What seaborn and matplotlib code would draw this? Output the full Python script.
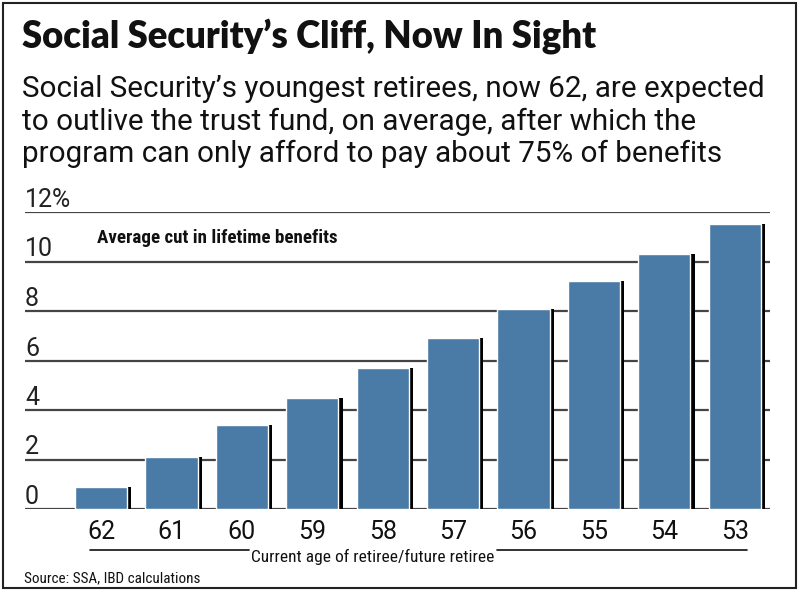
import matplotlib
matplotlib.use('Agg')
import matplotlib.pyplot as plt
import matplotlib.patheffects as pe
from matplotlib.patches import Rectangle
from matplotlib.lines import Line2D
import seaborn as sns

ages = ['62', '61', '60', '59', '58', '57', '56', '55', '54', '53']
cuts = [0.9, 2.1, 3.4, 4.5, 5.7, 6.9, 8.1, 9.2, 10.3, 11.5]
yticks = [0, 2, 4, 6, 8, 10, 12]
ytick_labels = ['0', '2', '4', '6', '8', '10', '12%']

title = 'Social Security\u2019s Cliff, Now In Sight'
subtitle = ['Social Security\u2019s youngest retirees, now 62, are expected',
            'to outlive the trust fund, on average, after which the',
            'program can only afford to pay about 75% of benefits']
series_label = 'Average cut in lifetime benefits'
xlabel = 'Current age of retiree/future retiree'
source = 'Source: SSA, IBD calculations'

sns.set_style('white')
plt.rcParams['font.family'] = ['Roboto', 'DejaVu Sans']
narrow = ['Roboto Condensed', 'Liberation Sans Narrow', 'DejaVu Sans']

W, H = 800, 591
fig = plt.figure(figsize=(8, 5.91), dpi=100)
ax = fig.add_axes([25 / W, 1 - 509 / H, 745 / W, 297 / H])

sns.barplot(x=ages, y=cuts, order=ages, color='#4a7aa6', saturation=1,
            width=0.74, ax=ax)
for p in ax.patches:
    p.set_path_effects([pe.SimplePatchShadow(offset=(3, 0), shadow_rgbFace='black', alpha=1),
                        pe.Normal()])

ax.set_ylim(0, 12)
ax.set_xlim(-1.08, 9.5)
ax.set_yticks(yticks)
ax.set_yticklabels(ytick_labels, ha='left', va='bottom', fontsize=18, color='#222')
ax.tick_params(axis='y', length=0, pad=0)
ax.tick_params(axis='x', length=0, pad=8, labelsize=18, labelcolor='#111')
ax.grid(axis='y', color='#444', lw=1.6)
ax.set_axisbelow(True)
for s in ax.spines.values():
    s.set_visible(False)
ax.set_xlabel('')
ax.set_ylabel('')

# texts
fig.text(22 / W, 1 - 48 / H, title, fontsize=26.3, fontweight='heavy',
         family=['Lato', 'DejaVu Sans'], va='baseline', color='#111')
for i, line in enumerate(subtitle):
    fig.text(22 / W, 1 - (97 + 32.5 * i) / H, line, fontsize=21.3, va='baseline', color='#111')
fig.text(97 / W, 1 - 243 / H, series_label, fontsize=13.7, fontweight='bold',
         family=narrow, stretch='condensed', va='baseline', color='#111')
fig.text(373 / W, 1 - 562 / H, xlabel, fontsize=12.5, ha='center',
         family=narrow, stretch='condensed', va='baseline', color='#111')
fig.text(24 / W, 1 - 582 / H, source, fontsize=10.9, family=narrow, stretch='condensed',
         va='baseline', color='#111')

fig.add_artist(Line2D([90 / W, 249 / W], [1 - 550 / H] * 2, color='#111', lw=1.2))
fig.add_artist(Line2D([497 / W, 747 / W], [1 - 550 / H] * 2, color='#111', lw=1.2))
fig.add_artist(Rectangle((3 / W, 3 / H), 793 / W, 585 / H, fill=False,
                         edgecolor='#222', lw=1.5))

fig.savefig('out.png', dpi=100)
